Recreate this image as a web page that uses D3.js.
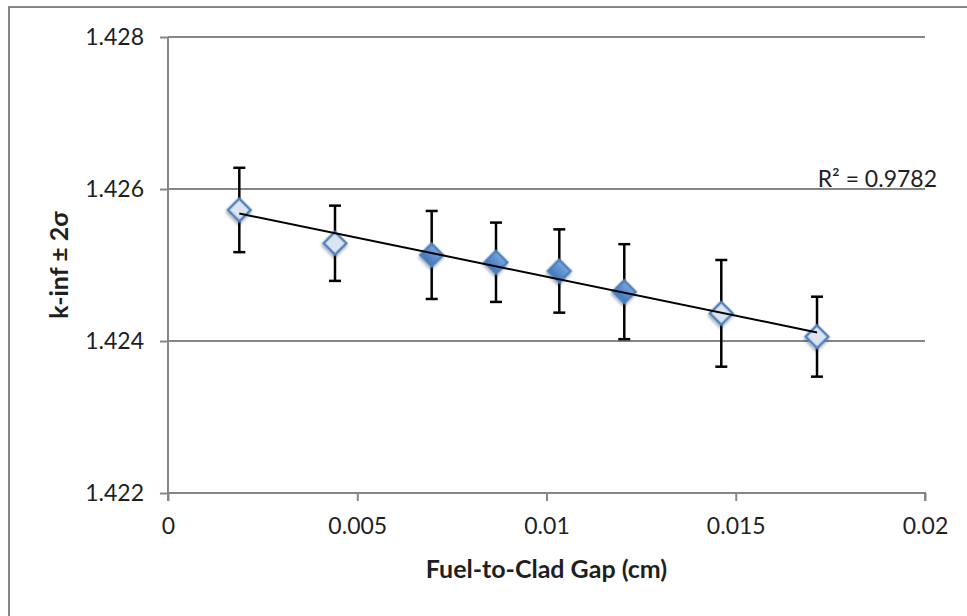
<!DOCTYPE html>
<html><head><meta charset="utf-8">
<script src="https://cdn.jsdelivr.net/npm/d3@7"></script>
<style>
html,body{margin:0;padding:0;background:#fff;}
svg{display:block;}
text{font-family:"Lato","Open Sans",sans-serif;fill:#1f1f1f;}
</style></head>
<body>
<script>
// ---- data ----
const gap = [0.001884, 0.004412, 0.006967, 0.008666, 0.010338, 0.012055, 0.014618, 0.017147];
const kinf = [1.425724, 1.425286, 1.425132, 1.425036, 1.424921, 1.424649, 1.424364, 1.424057];
const twoSigma = [0.000555, 0.000495, 0.000579, 0.000522, 0.000548, 0.000625, 0.000702, 0.000526];
const markerKind = ["light", "light", "solid", "solid", "solid", "solid", "light", "light"];
const xTicks = [0, 0.005, 0.01, 0.015, 0.02];
const xTickLabels = ["0", "0.005", "0.01", "0.015", "0.02"];
const yTicks = [1.422, 1.424, 1.426, 1.428];
const yTickLabels = ["1.422", "1.424", "1.426", "1.428"];
const xTitle = "Fuel-to-Clad Gap (cm)";
const yTitle = "k-inf ± 2σ";
const r2Label = "R² = 0.9782";

const W = 967, H = 616;
const m = {left: 168, right: 42, top: 37, bottom: 123};
const svg = d3.select("body").append("svg").attr("width", W).attr("height", H);

const defs = svg.append("defs");
const f = defs.append("filter").attr("id", "sh").attr("x", "-50%").attr("y", "-50%").attr("width", "200%").attr("height", "200%");
f.append("feDropShadow").attr("dx", 1).attr("dy", 2).attr("stdDeviation", 1.6).attr("flood-color", "#000").attr("flood-opacity", 0.35);
const g1 = defs.append("linearGradient").attr("id", "solidG").attr("x1", 0).attr("y1", 0).attr("x2", 0).attr("y2", 1);
g1.append("stop").attr("offset", "0%").attr("stop-color", "#7aa7de");
g1.append("stop").attr("offset", "100%").attr("stop-color", "#3f77bf");

// outer chart border
svg.append("rect").attr("x", 9).attr("y", 7).attr("width", W + 20).attr("height", H + 20)
  .attr("fill", "none").attr("stroke", "#868686").attr("stroke-width", 2);

const x = d3.scaleLinear().domain([0, 0.02]).range([m.left, W - m.right]);
const y = d3.scaleLinear().domain([1.422, 1.428]).range([H - m.bottom, m.top]);

// gridlines
svg.append("g").selectAll("line").data(yTicks.slice(1)).join("line")
  .attr("x1", x(0)).attr("x2", x(0.02)).attr("y1", d => y(d)).attr("y2", d => y(d))
  .attr("stroke", "#868686").attr("stroke-width", 2);

// axes
const yAxis = d3.axisLeft(y).tickValues(yTicks).tickFormat((d, i) => yTickLabels[i]).tickSize(8).tickPadding(16);
const yg = svg.append("g").attr("transform", `translate(${x(0)},0)`).call(yAxis);
const xAxis = d3.axisBottom(x).tickValues(xTicks).tickFormat((d, i) => xTickLabels[i]).tickSize(8).tickPadding(17);
const xg = svg.append("g").attr("transform", `translate(0,${y(1.422)})`).call(xAxis);
[yg, xg].forEach(g => {
  g.select(".domain").attr("stroke", "#868686").attr("stroke-width", 2);
  g.selectAll(".tick line").attr("stroke", "#868686").attr("stroke-width", 2);
  g.selectAll(".tick text").style("font-size", "23px").attr("fill", "#1f1f1f").style("font-family", "Lato");
});
xg.select(".domain").attr("d", `M${x(0)},0H${x(0.02)}V8`);
yg.select(".domain").attr("d", `M0,${y(1.428)}V${y(1.422)+8}`);

const pts = gap.map((g, i) => ({x: g, y: kinf[i], e: twoSigma[i], k: markerKind[i]}));

// error bars
const eb = svg.append("g").attr("stroke", "#000").attr("stroke-width", 2.5);
pts.forEach(p => {
  const cx = x(p.x);
  eb.append("line").attr("x1", cx).attr("x2", cx).attr("y1", y(p.y + p.e)).attr("y2", y(p.y - p.e));
  eb.append("line").attr("x1", cx - 6).attr("x2", cx + 6).attr("y1", y(p.y + p.e)).attr("y2", y(p.y + p.e));
  eb.append("line").attr("x1", cx - 6).attr("x2", cx + 6).attr("y1", y(p.y - p.e)).attr("y2", y(p.y - p.e));
});

// markers
const sym = d3.symbol().type(d3.symbolSquare).size(260);
svg.append("g").selectAll("path").data(pts).join("path")
  .attr("d", sym)
  .attr("transform", d => `translate(${x(d.x)},${y(d.y)}) rotate(45)`)
  .attr("fill", d => d.k === "solid" ? "url(#solidG)" : "#dbe5f2")
  .attr("stroke", "#4f81bd").attr("stroke-width", 2.5)
  .attr("filter", "url(#sh)");

// linear trendline (least squares)
const mx = d3.mean(gap), my = d3.mean(kinf);
const slope = d3.sum(gap.map((g, i) => (g - mx) * (kinf[i] - my))) / d3.sum(gap.map(g => (g - mx) ** 2));
const icpt = my - slope * mx;
const xs = d3.extent(gap);
svg.append("line")
  .attr("x1", x(xs[0])).attr("y1", y(icpt + slope * xs[0]))
  .attr("x2", x(xs[1])).attr("y2", y(icpt + slope * xs[1]))
  .attr("stroke", "#000").attr("stroke-width", 2);

// R² label
svg.append("text").attr("x", 937).attr("y", 187).attr("text-anchor", "end")
  .style("font-size", "23px").text(r2Label);

// axis titles
svg.append("text").attr("x", (x(0) + x(0.02)) / 2).attr("y", 578).attr("text-anchor", "middle")
  .style("font-size", "25px").style("font-weight", "bold").text(xTitle);
svg.append("text").attr("transform", `translate(68,${(y(1.422) + y(1.428)) / 2}) rotate(-90)`)
  .attr("text-anchor", "middle").style("font-size", "25px").style("font-weight", "bold").text(yTitle);
</script>
</body></html>
